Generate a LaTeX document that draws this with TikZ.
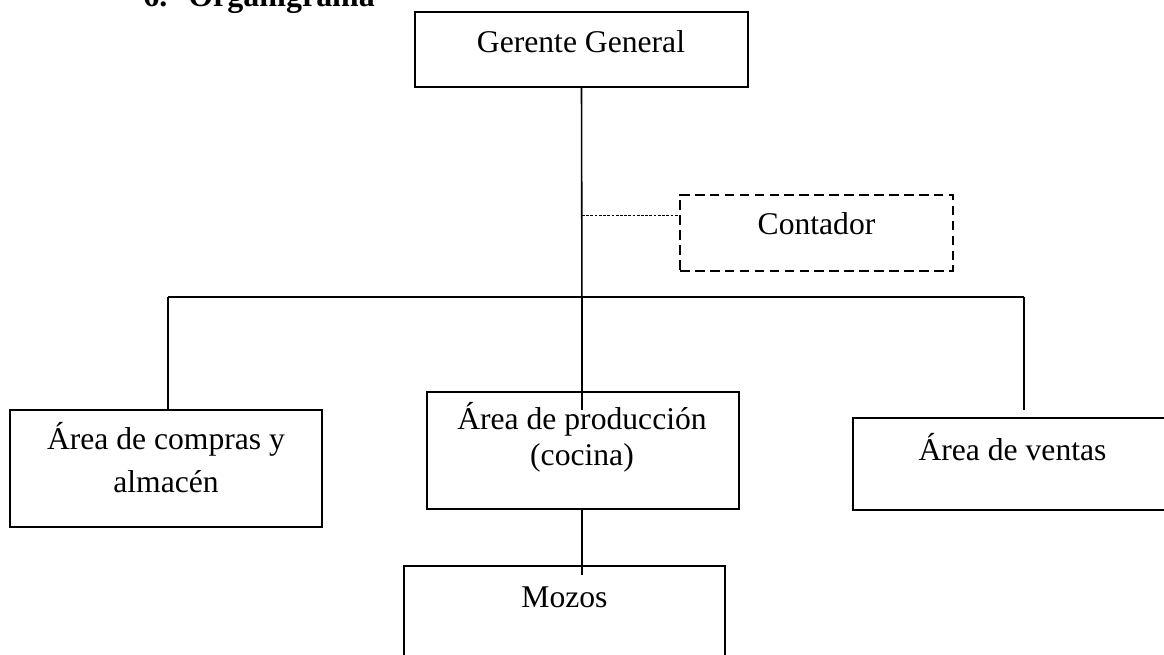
\documentclass[tikz,border=0pt]{standalone}
\usepackage{fontspec}
\setmainfont{Liberation Serif}
\usetikzlibrary{calc}
\begin{document}
\begin{tikzpicture}[x=0.02cm,y=-0.02cm,
  orgbox/.style={draw,line width=0.85pt,inner sep=0pt,outer sep=0pt},
  dashbox/.style={draw,line width=1.1pt,dash pattern=on 5.5pt off 3pt,inner sep=0pt,outer sep=0pt},
  lbl/.style={anchor=base,inner sep=0pt,font=\fontsize{18}{21}\selectfont},
  ttl/.style={anchor=base west,inner sep=0pt,font=\fontsize{18.2}{22}\selectfont\bfseries},
  conn/.style={line width=0.6pt},
  dotconn/.style={line width=0.45pt,dash pattern=on 1.6pt off 0.8pt}]
\useasboundingbox (0,0) rectangle (1164,655);
\begin{scope}
\clip (0,0) rectangle (1164,655);
% title (cut at the top edge)
\node[ttl] (tnum) at (143,7) {6.};
\node[ttl] (ttext) at (188,7) {Organigrama};
% boxes
\node[orgbox,minimum width=6.66cm,minimum height=1.5cm] (g) at (581.5,49.5) {};
\node[lbl] (gt) at (581,53) {Gerente General};
\node[dashbox,minimum width=5.46cm,minimum height=1.52cm] (c) at (816.5,233) {};
\node[lbl] (ct) at (816.5,235) {Contador};
\node[orgbox,minimum width=6.24cm,minimum height=2.34cm] (l) at (166,468.5) {};
\node[lbl] (lt1) at (166,450) {Área de compras y};
\node[lbl] (lt2) at (166,492) {almacén};
\node[orgbox,minimum width=6.24cm,minimum height=2.34cm] (p) at (583,450.5) {};
\node[lbl] (pt1) at (582,430) {Área de producción};
\node[lbl] (pt2) at (582,465) {(cocina)};
\node[orgbox,minimum width=6.38cm,minimum height=1.84cm] (r) at (1012.5,464) {};
\node[lbl] (rt) at (1012.5,460) {Área de ventas};
\node[orgbox,minimum width=6.42cm,minimum height=2.28cm] (m) at (564.5,623) {};
\node[lbl] (mt) at (564.5,607) {Mozos};
% connector points
\coordinate (vmid) at (582,318);
\coordinate (pend) at (582,410);
\coordinate (hl) at (168,297);
\coordinate (hr) at (1024,297);
\coordinate (rend) at (1024,410);
\coordinate (cs) at (582,215);
\coordinate (mend) at (582,575);
% connectors
\draw[line width=0.9pt] (g.south) -- (vmid);
\draw[conn] (vmid) -- (pend);
\draw[conn] (hl) -- (hr);
\draw[conn] (hl) -- (hl |- l.north);
\draw[conn] (hr) -- (rend);
\draw[dotconn] (cs) -- (c.west |- cs);
\draw[conn] (582,509) -- (mend);
\end{scope}
\end{tikzpicture}
\end{document}
